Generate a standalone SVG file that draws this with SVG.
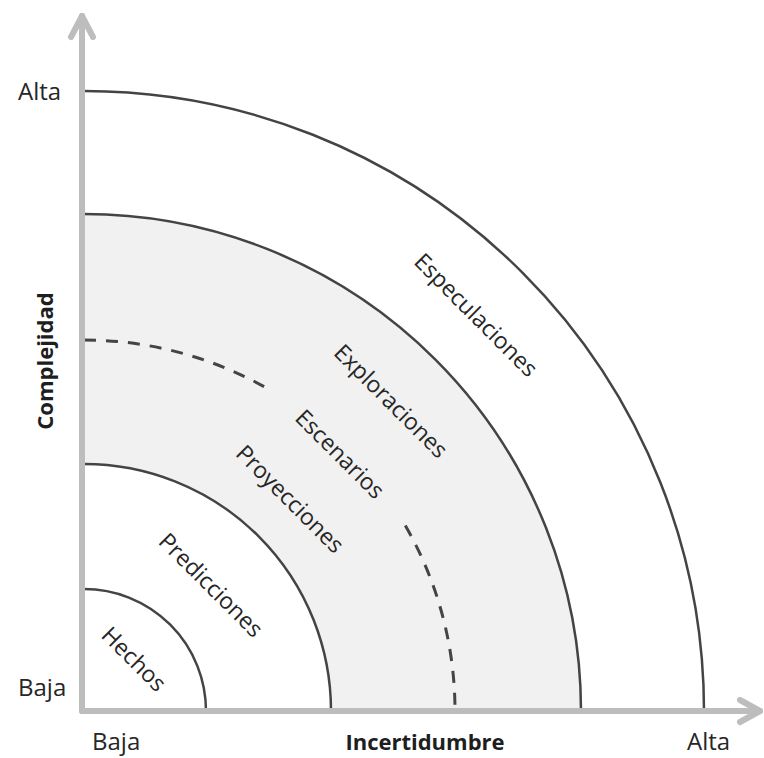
<svg xmlns="http://www.w3.org/2000/svg" width="764" height="758" viewBox="0 0 764 758">
<style>
.arc{fill:none;stroke:#444;stroke-width:2.5}
.dash{fill:none;stroke:#444;stroke-width:3;stroke-dasharray:12 10}
.axis{fill:none;stroke:#bdbdbd;stroke-width:6;stroke-linecap:round;stroke-linejoin:round}
.lbl{font-family:"Open Sans",sans-serif;font-size:23px;fill:#262626;text-anchor:middle}
.ax{font-family:"Open Sans",sans-serif;font-size:24px;fill:#262626}
.axb{font-family:"Open Sans",sans-serif;font-size:22px;font-weight:bold;fill:#1e1e1e;text-anchor:middle}
</style>
<rect width="764" height="758" fill="#ffffff"/>
<g id="band">
<path d="M84,214 A497,497 0 0 1 581,711 L331,711 A247,247 0 0 0 84,464 Z" fill="#f1f1f1"/>
</g>
<g id="connectors">
<path class="arc" d="M84,589 A122,122 0 0 1 206,711"/>
<path class="arc" d="M84,464 A247,247 0 0 1 331,711"/>
<path class="dash" d="M84,340 A371,371 0 0 1 269.5,389.7"/>
<path class="dash" d="M405.3,525.5 A371,371 0 0 1 455,711"/>
<path class="arc" d="M84,214 A497,497 0 0 1 581,711"/>
<path class="arc" d="M84,91 A620,620 0 0 1 704,711"/>
<path class="axis" d="M82,711 L82,16"/>
<path class="axis" d="M71,37 L82,16 L93,37"/>
<path class="axis" d="M82,711 L760,711"/>
<path class="axis" d="M740,700 L760,711 L740,722"/>
</g>
<g id="hechos"><text class="lbl" x="134" y="659" dy=".35em" transform="rotate(45 134 659)">Hechos</text></g>
<g id="predicciones"><text class="lbl" x="211" y="585" dy=".35em" transform="rotate(45 211 585)">Predicciones</text></g>
<g id="proyecciones"><text class="lbl" x="290" y="499" dy=".35em" transform="rotate(45 290 499)">Proyecciones</text></g>
<g id="escenarios"><text class="lbl" x="340" y="454" dy=".35em" transform="rotate(45 340 454)">Escenarios</text></g>
<g id="exploraciones"><text class="lbl" x="391" y="401" dy=".35em" transform="rotate(45 391 401)">Exploraciones</text></g>
<g id="especulaciones"><text class="lbl" x="476" y="315" dy=".35em" transform="rotate(45 476 315)">Especulaciones</text></g>
<g id="axis-labels">
<text class="ax" x="18" y="100">Alta</text>
<text class="ax" x="18" y="696">Baja</text>
<text class="ax" x="92" y="750">Baja</text>
<text class="ax" x="687" y="750">Alta</text>
<text class="axb" x="425" y="750">Incertidumbre</text>
<text class="axb" x="53" y="361" transform="rotate(-90 53 361)">Complejidad</text>
</g>
</svg>
